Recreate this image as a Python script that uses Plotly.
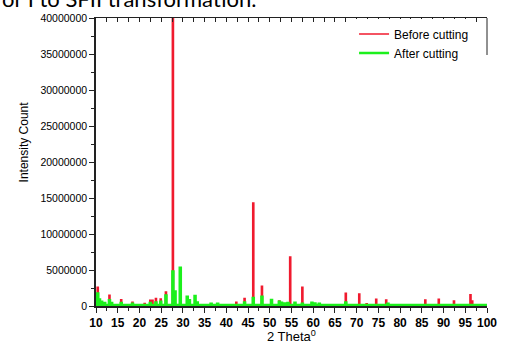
import plotly.graph_objects as go

# ---- data (2 theta in degrees, intensity counts) ----
theta_before = [10.0, 10.4, 13.1, 15.8, 18.4, 21.2, 22.5, 23.0, 23.8, 24.9, 26.1, 27.7,
                42.3, 44.2, 46.2, 48.2, 52.2, 54.7, 57.5, 67.5, 70.6, 72.3, 74.5, 76.8,
                79.1, 85.8, 87.3, 88.9, 90.4, 92.4, 96.2, 96.6]
counts_before = [1300000, 2600000, 1500000, 850000, 500000, 350000, 800000, 800000, 1050000,
                 950000, 1950000, 45000000, 500000, 1050000, 14300000, 2750000, 700000,
                 6800000, 2600000, 1750000, 1650000, 300000, 920000, 820000, 200000, 820000,
                 200000, 920000, 200000, 700000, 1550000, 700000]
theta_after = [10.0, 10.4, 10.8, 11.3, 12.0, 13.1, 13.6, 15.8, 18.4, 22.5, 23.8, 24.9, 26.1,
               27.7, 28.2, 29.4, 31.0, 31.5, 32.8, 33.3, 36.5, 38.0, 44.2, 46.2, 48.2, 50.4,
               52.2, 52.7, 53.5, 54.2, 55.8, 57.5, 59.7, 60.4, 61.4, 64.4, 67.5, 74.5, 77.2]
counts_after = [900000, 1750000, 900000, 600000, 400000, 800000, 400000, 400000, 300000,
                400000, 500000, 600000, 1450000, 4800000, 2000000, 5300000, 1300000, 800000,
                1400000, 500000, 300000, 300000, 500000, 1100000, 1300000, 850000, 600000,
                450000, 350000, 400000, 450000, 300000, 450000, 350000, 300000, 250000,
                500000, 250000, 300000]
baseline_before = 150000
baseline_after = 150000

x_ticks = list(range(10, 101, 5))
y_ticks = list(range(0, 40000001, 5000000))
y_tick_labels = [str(v) for v in y_ticks]

RED = "#f01a2e"
GREEN = "#1cf01c"


def stick_path(thetas, counts, base, lo=10, hi=100, half=0.12):
    xs, ys = [lo], [base]
    for t, c in sorted(zip(thetas, counts)):
        xs += [t - half, t - half, t + half, t + half]
        ys += [base, c, c, base]
    xs.append(hi)
    ys.append(base)
    return xs, ys


xb, yb = stick_path(theta_before, counts_before, baseline_before)
xa, ya = stick_path(theta_after, counts_after, baseline_after)

fig = go.Figure()
fig.add_trace(go.Scatter(x=xb, y=yb, mode="lines", name="Before cutting",
                         line=dict(color=RED, width=1.6), hoverinfo="skip"))
fig.add_trace(go.Scatter(x=xa, y=ya, mode="lines", name="After cutting",
                         line=dict(color=GREEN, width=2.5), hoverinfo="skip"))
# top mirror axis (ticks inside)
fig.add_trace(go.Scatter(x=[10, 100], y=[0, 0], xaxis="x2", yaxis="y", mode="markers",
                         marker=dict(opacity=0, size=1), showlegend=False, hoverinfo="skip"))

axis_font = dict(family="Arial, Liberation Sans, sans-serif", color="#000")

fig.update_layout(
    width=509, height=354, autosize=False,
    margin=dict(l=96, r=13, t=14, b=48, pad=0),
    paper_bgcolor="white", plot_bgcolor="white",
    showlegend=True,
    xaxis=dict(range=[10, 100], tickvals=x_ticks, ticktext=[f"<b>{v}</b>" for v in x_ticks],
               ticks="outside", ticklen=5, tickwidth=1.2, tickcolor="#222",
               showline=True, linecolor="#222", linewidth=1.5, showgrid=False, zeroline=False,
               tickfont=dict(size=12, **axis_font),
               minor=dict(dtick=2.5, tick0=10, ticks="outside", ticklen=3, tickcolor="#222")),
    xaxis2=dict(range=[10, 100], overlaying="x", side="top", anchor="y",
                showticklabels=False, ticks="inside", dtick=2.5, tick0=10, ticklen=4,
                tickwidth=1.1, tickcolor="#222", showline=True, linecolor="#222", linewidth=1.2,
                showgrid=False, zeroline=False),
    yaxis=dict(range=[0, 40000000], tickvals=y_ticks, ticktext=y_tick_labels,
               ticks="outside", ticklen=5, tickwidth=1.2, tickcolor="#222",
               showline=True, linecolor="#222", linewidth=1.5, showgrid=False, zeroline=False,
               tickfont=dict(size=10.5, **axis_font),
               minor=dict(dtick=2500000, ticks="outside", ticklen=3, tickcolor="#222")),
    legend=dict(x=0.66, y=0.995, xanchor="left", yanchor="top", bgcolor="white",
                borderwidth=0, font=dict(size=12, **axis_font), tracegroupgap=0),
    annotations=[
        dict(text="Intensity Count", xref="paper", yref="paper",
             x=(22 - 96) / 400, y=(306.5 - 140) / 292, showarrow=False, textangle=-90,
             font=dict(size=12, **axis_font), xanchor="center", yanchor="middle"),
        dict(text="2 Theta<sup>0</sup>", xref="paper", yref="paper",
             x=0.5, y=(306.5 - 337) / 292, showarrow=False,
             font=dict(size=13, **axis_font), xanchor="center", yanchor="middle"),
        dict(text="or I to SFII transformation.", xref="paper", yref="paper",
             x=(-2 - 96) / 400, y=(306.5 - 10) / 292, showarrow=False,
             font=dict(size=22, family="Lato, Open Sans, sans-serif", color="#000"),
             xanchor="left", yanchor="bottom"),
    ],
    shapes=[dict(type="line", xref="paper", yref="paper", x0=1.0, x1=1.0,
                 y0=1.0, y1=(306.5 - 52) / 292, line=dict(color="#222", width=1))],
)

fig.write_html("out.html", config={"displayModeBar": False, "responsive": False},
               post_script="document.body.style.margin='0';document.body.style.overflow='hidden';")
